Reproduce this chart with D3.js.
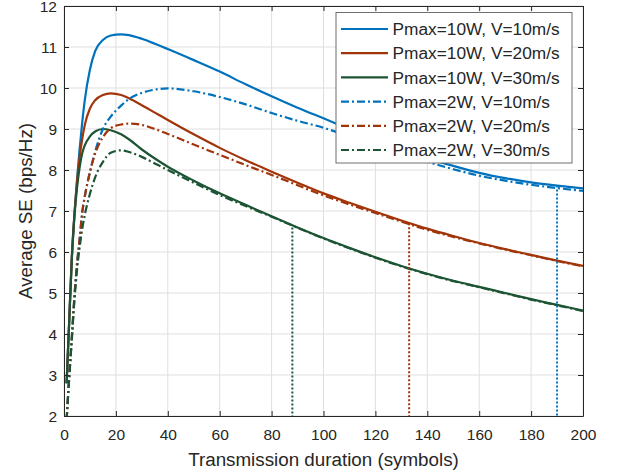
<!DOCTYPE html>
<html>
<head>
<meta charset="utf-8">
<script src="https://cdn.jsdelivr.net/npm/d3@7/dist/d3.min.js"></script>
<style>
  body { margin: 0; background: #ffffff; }
  text { font-family: "Liberation Sans", Arial, Helvetica, sans-serif; fill: #262626; }
</style>
</head>
<body>
<div id="chart"></div>
<script>
// ---- data ----
var symbols = [1, 2, 3, 4, 5, 6, 7, 8, 10, 12, 15, 18, 22, 25, 30, 35, 40,
  50, 60, 70, 80, 90, 100, 110, 120, 130, 140, 150, 160, 170, 180, 190, 200];

var p10v10 = [2.8, 4.3, 5.85, 6.9, 7.75, 8.5, 9.15, 9.7, 10.45, 10.9, 11.17, 11.28, 11.31, 11.29, 11.2, 11.08, 10.95,
  10.68, 10.4, 10.09, 9.8, 9.52, 9.26, 9.0, 8.75, 8.51, 8.29, 8.1, 7.93, 7.8, 7.7, 7.62, 7.55];
var p10v20 = [2.8, 4.3, 5.85, 6.9, 7.7, 8.3, 8.75, 9.1, 9.5, 9.7, 9.83, 9.87, 9.83, 9.75, 9.58, 9.4, 9.22,
  8.87, 8.54, 8.24, 7.96, 7.69, 7.43, 7.2, 6.98, 6.77, 6.57, 6.39, 6.22, 6.07, 5.93, 5.79, 5.66];
var p10v30 = [2.8, 4.3, 5.8, 6.85, 7.55, 8.05, 8.4, 8.6, 8.82, 8.94, 9.0, 8.97, 8.87, 8.75, 8.5, 8.28, 8.08,
  7.74, 7.43, 7.15, 6.87, 6.6, 6.34, 6.1, 5.87, 5.66, 5.47, 5.3, 5.15, 5.0, 4.85, 4.71, 4.57];
var p2v10 = [1.9, 2.95, 3.9, 4.9, 5.7, 6.3, 6.95, 7.35, 7.95, 8.45, 9.0, 9.3, 9.57, 9.73, 9.88, 9.96, 9.99,
  9.92, 9.78, 9.6, 9.39, 9.2, 9.03, 8.82, 8.6, 8.4, 8.2, 8.02, 7.86, 7.74, 7.64, 7.56, 7.49];
var p2v20 = [1.9, 2.95, 3.9, 4.9, 5.7, 6.3, 6.95, 7.35, 7.95, 8.4, 8.8, 9.02, 9.11, 9.13, 9.1, 9.0, 8.88,
  8.62, 8.37, 8.12, 7.88, 7.63, 7.38, 7.16, 6.95, 6.74, 6.54, 6.37, 6.21, 6.06, 5.92, 5.78, 5.65];
var p2v30 = [1.9, 2.9, 3.85, 4.8, 5.55, 6.1, 6.55, 6.9, 7.42, 7.82, 8.2, 8.42, 8.48, 8.44, 8.32, 8.16, 8.0,
  7.69, 7.39, 7.12, 6.86, 6.59, 6.33, 6.09, 5.86, 5.65, 5.46, 5.29, 5.14, 4.99, 4.84, 4.7, 4.56];

var seriesNames = ["Pmax=10W, V=10m/s", "Pmax=10W, V=20m/s", "Pmax=10W, V=30m/s",
  "Pmax=2W, V=10m/s", "Pmax=2W, V=20m/s", "Pmax=2W, V=30m/s"];
var seriesValues = [p10v10, p10v20, p10v30, p2v10, p2v20, p2v30];

// optimal duration markers (dotted verticals)
var markerX = [88, 133, 190];
var markerTop = [6.6, 6.7, 7.62];

var xTicks = [0, 20, 40, 60, 80, 100, 120, 140, 160, 180, 200];
var yTicks = [2, 3, 4, 5, 6, 7, 8, 9, 10, 11, 12];

// ---- layout ----
var svgWidth = 620;
var svgHeight = 473;
var margin = { top: 6, right: 37, bottom: 57, left: 64 };
var width = svgWidth - margin.left - margin.right;
var height = svgHeight - margin.top - margin.bottom;

var colors = ["#0072BD", "#A2340A", "#1D5434"];
var axisColor = "#262626";

var svg = d3.select("#chart")
  .append("svg")
  .attr("width", svgWidth)
  .attr("height", svgHeight);

var chartGroup = svg.append("g")
  .attr("transform", `translate(${margin.left}, ${margin.top})`);

var xScale = d3.scaleLinear().domain([0, 200]).range([0, width]);
var yScale = d3.scaleLinear().domain([2, 12]).range([height, 0]);

chartGroup.append("defs").append("clipPath")
  .attr("id", "plotClip")
  .append("rect")
  .attr("width", width)
  .attr("height", height);

// grid
chartGroup.append("g")
  .selectAll("line")
  .data(xTicks)
  .enter()
  .append("line")
  .attr("x1", d => xScale(d))
  .attr("x2", d => xScale(d))
  .attr("y1", 0)
  .attr("y2", height)
  .attr("stroke", "#dfdfdf")
  .attr("stroke-width", 1);

chartGroup.append("g")
  .selectAll("line")
  .data(yTicks)
  .enter()
  .append("line")
  .attr("x1", 0)
  .attr("x2", width)
  .attr("y1", d => yScale(d))
  .attr("y2", d => yScale(d))
  .attr("stroke", "#dfdfdf")
  .attr("stroke-width", 1);

// curves
var line = d3.line()
  .x(d => xScale(d[0]))
  .y(d => yScale(d[1]))
  .curve(d3.curveMonotoneX);

var curvesGroup = chartGroup.append("g").attr("clip-path", "url(#plotClip)");

seriesValues.forEach(function(vals, i) {
  var pts = symbols.map((s, j) => [s, vals[j]]);
  curvesGroup.append("path")
    .datum(pts)
    .attr("d", line)
    .attr("fill", "none")
    .attr("stroke", colors[i % 3])
    .attr("stroke-width", 2.2)
    .attr("stroke-dasharray", i < 3 ? null : "8,3,2,3");
});

// dotted markers down to the x axis
markerX.forEach(function(mx, i) {
  curvesGroup.append("line")
    .attr("x1", xScale(mx))
    .attr("x2", xScale(mx))
    .attr("y1", yScale(markerTop[i]))
    .attr("y2", height)
    .attr("stroke", colors[2 - i])
    .attr("stroke-width", 2)
    .attr("stroke-dasharray", "2,2");
});

// axes (ticks point inward, box on all sides)
var bottomAxis = d3.axisBottom(xScale).tickValues(xTicks).tickSizeInner(-5).tickSizeOuter(0).tickPadding(13);
var leftAxis = d3.axisLeft(yScale).tickValues(yTicks).tickSizeInner(-5).tickSizeOuter(0).tickPadding(7);
var topAxis = d3.axisTop(xScale).tickValues(xTicks).tickSizeInner(-5).tickSizeOuter(0).tickFormat("");
var rightAxis = d3.axisRight(yScale).tickValues(yTicks).tickSizeInner(-5).tickSizeOuter(0).tickFormat("");

var xAxis = chartGroup.append("g")
  .attr("transform", `translate(0, ${height})`)
  .call(bottomAxis);
var yAxis = chartGroup.append("g").call(leftAxis);
chartGroup.append("g").call(topAxis);
chartGroup.append("g").attr("transform", `translate(${width}, 0)`).call(rightAxis);

chartGroup.selectAll(".domain, .tick line")
  .attr("stroke", axisColor)
  .attr("stroke-width", 1);
chartGroup.selectAll(".tick text")
  .attr("fill", axisColor)
  .style("font-size", "15.5px")
  .style("font-family", "'Liberation Sans', Arial, sans-serif");
yAxis.selectAll(".tick text").attr("dy", "0.36em");

// axis labels
chartGroup.append("text")
  .attr("x", width / 2)
  .attr("y", height + 50)
  .attr("text-anchor", "middle")
  .style("font-size", "18.8px")
  .text("Transmission duration (symbols)");

chartGroup.append("text")
  .attr("transform", "rotate(-90)")
  .attr("x", 0 - (height / 2))
  .attr("y", 32 - margin.left)
  .attr("text-anchor", "middle")
  .style("font-size", "18.8px")
  .text("Average SE (bps/Hz)");

// legend
var legend = svg.append("g").attr("transform", "translate(336, 12.5)");
legend.append("rect")
  .attr("width", 236)
  .attr("height", 150.5)
  .attr("fill", "#ffffff")
  .attr("stroke", "#6e6e6e")
  .attr("stroke-width", 1);

seriesNames.forEach(function(name, i) {
  var rowY = 16.5 + i * 24.2;
  legend.append("line")
    .attr("x1", 5)
    .attr("x2", 52)
    .attr("y1", rowY)
    .attr("y2", rowY)
    .attr("stroke", colors[i % 3])
    .attr("stroke-width", 2.2)
    .attr("stroke-dasharray", i < 3 ? null : "8,3,2,3");
  legend.append("text")
    .attr("x", 56.5)
    .attr("y", rowY)
    .attr("dy", "0.36em")
    .style("font-size", "17.3px")
    .text(name);
});
</script>
</body>
</html>
